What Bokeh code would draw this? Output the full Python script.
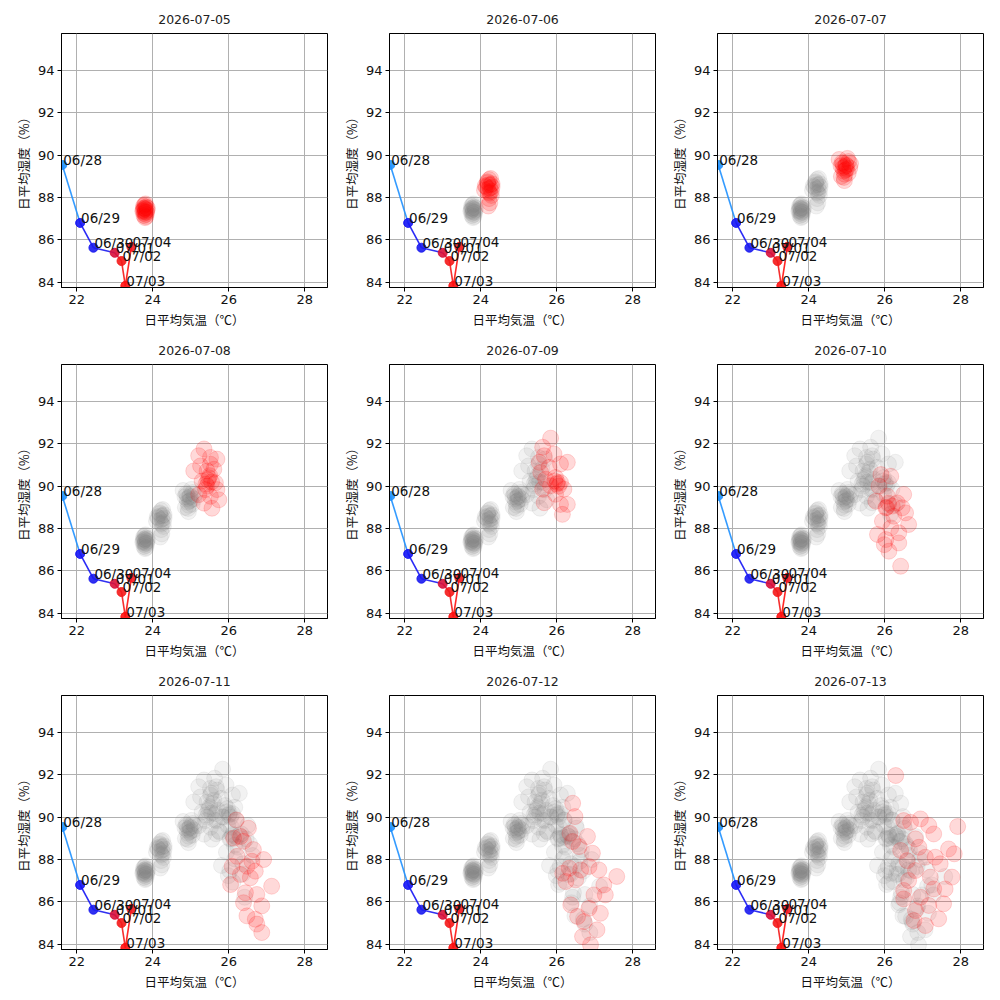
from bokeh.core.properties import value
from bokeh.embed import file_html
from bokeh.layouts import gridplot
from bokeh.models import ColumnDataSource, Range1d
from bokeh.plotting import figure
from bokeh.resources import INLINE

LATIN = "DejaVu Sans"
CJK = "Noto Sans CJK JP"

# observed daily means (temperature, humidity)
obs_dates = ["06/28", "06/29", "06/30", "07/01", "07/02", "07/03", "07/04"]
obs_temp = [21.62, 22.09, 22.44, 23.00, 23.18, 23.28, 23.44]
obs_hum = [89.54, 86.80, 85.63, 85.39, 85.00, 83.83, 85.67]
obs_colors = ["#1e90ff", "#1414f5", "#1a1af0", "#d8103a", "#f41818", "#ff1010", "#f41820"]

# ensemble forecasts per target day
panel_days = ["2026-07-05", "2026-07-06", "2026-07-07", "2026-07-08", "2026-07-09",
              "2026-07-10", "2026-07-11", "2026-07-12", "2026-07-13"]

t_0705 = [23.78, 23.80, 23.76, 23.82, 23.79, 23.74, 23.85, 23.81, 23.77, 23.83,
          23.80, 23.75, 23.78, 23.84, 23.79, 23.81, 23.76, 23.82, 23.80, 23.86]
h_0705 = [87.45, 87.30, 87.60, 87.20, 87.50, 87.35, 87.40, 87.70, 87.15, 87.55,
          87.05, 87.40, 87.25, 87.30, 87.65, 87.45, 87.50, 87.10, 87.35, 87.50]

t_0706 = [24.20, 24.25, 24.18, 24.28, 24.22, 24.15, 24.30, 24.24, 24.20, 24.26,
          24.12, 24.22, 24.28, 24.18, 24.24, 24.30, 24.10, 24.20, 24.26, 24.22]
h_0706 = [88.60, 88.45, 88.75, 88.30, 88.85, 88.50, 88.65, 88.20, 88.40, 88.90,
          88.55, 87.95, 88.10, 88.70, 87.75, 88.50, 88.35, 87.60, 88.60, 88.25]

t_0707 = [24.95, 24.90, 25.00, 24.85, 25.05, 24.92, 24.98, 24.80, 25.08, 24.95,
          24.88, 25.02, 24.93, 24.97, 24.90, 25.04, 24.86, 24.99, 24.94, 25.10]
h_0707 = [89.45, 89.60, 89.35, 89.50, 89.70, 89.25, 89.55, 89.80, 89.40, 89.10,
          89.65, 89.85, 88.95, 89.30, 89.40, 89.15, 89.00, 89.50, 88.80, 89.60]

t_0708 = [25.35, 25.21, 25.52, 25.69, 25.08, 25.43, 25.26, 25.61, 25.48, 25.30, 25.65, 25.39,
          25.69, 25.21, 25.52, 25.74, 25.35, 25.56, 25.43, 25.52, 25.45, 25.50, 25.40, 25.55]
h_0708 = [91.76, 91.44, 91.36, 91.28, 90.72, 90.72, 90.96, 90.80, 90.40, 90.24, 90.16, 89.84,
          89.84, 89.60, 89.52, 89.36, 89.20, 88.96, 90.00, 91.04, 90.30, 90.50, 90.10, 90.20]

t_0709 = [25.84, 25.63, 25.93, 25.67, 25.54, 26.28, 26.10, 25.80, 25.58, 25.97, 26.10, 25.84,
          26.19, 25.63, 25.71, 25.97, 25.67, 26.10, 26.28, 26.15, 26.02, 26.00, 25.95, 26.05]
h_0709 = [92.27, 91.84, 91.52, 91.44, 91.13, 91.13, 91.05, 90.89, 90.65, 90.41, 90.17, 90.02,
          89.86, 89.86, 90.33, 89.62, 89.22, 89.14, 89.14, 88.67, 90.17, 90.10, 90.25, 90.00]

t_0710 = [25.90, 26.16, 25.85, 26.07, 25.77, 26.50, 26.33, 26.03, 26.46, 26.24, 25.94, 26.63,
          26.16, 26.37, 25.81, 26.03, 26.37, 25.99, 26.11, 26.42, 26.55, 26.20, 26.10, 26.05]
h_0710 = [90.55, 90.47, 90.00, 89.53, 89.29, 89.61, 89.21, 88.98, 88.98, 88.58, 88.35, 88.19,
          88.03, 87.80, 87.72, 87.48, 87.32, 87.24, 86.93, 86.22, 88.74, 89.06, 89.20, 89.00]

t_0711 = [26.20, 26.31, 26.52, 26.13, 26.39, 26.65, 26.22, 26.92, 26.61, 26.48, 26.70, 26.31,
          26.57, 26.05, 27.13, 26.44, 26.74, 26.87, 26.39, 26.48, 26.70, 26.74, 26.87, 26.09]
h_0711 = [89.87, 89.09, 89.48, 89.01, 88.86, 88.47, 88.15, 88.00, 87.92, 87.68, 87.45, 87.29,
          87.14, 86.82, 86.74, 86.43, 86.35, 85.81, 85.96, 85.34, 85.18, 84.95, 84.55, 87.68]

t_0712 = [26.42, 26.48, 26.35, 26.81, 26.42, 26.59, 26.94, 26.33, 26.63, 26.85, 27.11, 27.58, 26.50,
          27.24, 26.98, 27.28, 26.37, 26.85, 26.55, 27.15, 26.72, 27.06, 26.68, 26.89, 26.24, 26.16]
h_0712 = [90.66, 90.03, 89.24, 89.09, 88.85, 88.61, 88.30, 87.59, 87.51, 87.67, 87.51, 87.20, 87.04,
          86.80, 86.33, 86.33, 85.86, 85.70, 85.31, 85.46, 85.07, 84.68, 84.36, 83.97, 86.96, 87.35]

t_0713 = [26.29, 26.50, 26.94, 26.68, 27.16, 27.29, 27.92, 26.81, 27.68, 27.83, 26.90, 26.42, 26.59, 27.07, 27.33, 27.46,
          26.81, 27.20, 27.77, 27.29, 27.59, 26.50, 26.94, 26.50, 27.16, 27.55, 26.81, 27.42, 26.77, 27.07, 26.63]
h_0713 = [91.97, 89.84, 89.92, 89.76, 89.61, 89.21, 89.56, 88.98, 88.50, 88.27, 88.58, 88.43, 87.95, 88.11, 88.11, 87.80,
          87.48, 87.17, 87.17, 86.61, 86.61, 86.54, 86.22, 86.14, 85.83, 85.91, 85.59, 85.20, 85.12, 84.88, 87.01]

forecast_t = [t_0705, t_0706, t_0707, t_0708, t_0709, t_0710, t_0711, t_0712, t_0713]
forecast_h = [h_0705, h_0706, h_0707, h_0708, h_0709, h_0710, h_0711, h_0712, h_0713]

x_ticks = [22, 24, 26, 28]
y_ticks = [84, 86, 88, 90, 92, 94]


def make_panel(i):
    p = figure(frame_width=266, frame_height=254,
               min_border_left=61, min_border_right=1, min_border_top=33, min_border_bottom=42,
               x_range=Range1d(21.6, 28.6), y_range=Range1d(83.75, 95.75),
               output_backend="svg", toolbar_location=None, tools="",
               title=panel_days[i], x_axis_label="日平均気温（℃）", y_axis_label="日平均湿度（%）")
    p.title.align = "center"
    p.title.text_font = LATIN
    p.title.text_font_style = "normal"
    p.title.text_font_size = "12.5px"
    p.title.text_color = "#222222"
    p.title.standoff = 19

    p.xaxis.ticker = x_ticks
    p.yaxis.ticker = y_ticks
    for ax in (p.xaxis, p.yaxis):
        ax.major_label_text_font = LATIN
        ax.major_label_text_font_size = "13px"
        ax.major_label_text_color = "#111111"
        ax.axis_label_text_font = CJK
        ax.axis_label_text_font_size = "12.5px"
        ax.axis_label_text_font_style = "normal"
        ax.axis_label_text_color = "#111111"
        ax.major_tick_out = 4
        ax.major_tick_in = 0
        ax.minor_tick_out = 0
        ax.minor_tick_in = 0
        ax.axis_line_color = "black"
        ax.major_label_standoff = 3
    p.xaxis.axis_label_standoff = 3
    p.yaxis.axis_label_standoff = 2
    p.grid.grid_line_color = "#b0b0b0"
    p.grid.grid_line_width = 1
    p.outline_line_color = "black"
    p.outline_line_alpha = 1
    p.outline_line_width = 1

    # earlier forecasts in gray
    gt, gh = [], []
    for k in range(i):
        gt += forecast_t[k]
        gh += forecast_h[k]
    if gt:
        p.scatter(gt, gh, size=16, color="gray", alpha=0.1)
    p.scatter(forecast_t[i], forecast_h[i], size=16, color="red", alpha=0.15)

    # observed path
    seg = ColumnDataSource(dict(x0=obs_temp[:-1], y0=obs_hum[:-1], x1=obs_temp[1:], y1=obs_hum[1:],
                                c=obs_colors[:-1]))
    p.segment("x0", "y0", "x1", "y1", source=seg, line_color="c", line_width=1.6, line_alpha=0.9)
    obs = ColumnDataSource(dict(x=obs_temp, y=obs_hum, c=obs_colors, d=obs_dates))
    p.scatter("x", "y", source=obs, size=9, fill_color="c", line_color="c", alpha=0.9)
    p.text("x", "y", text="d", source=obs, x_offset=1, y_offset=3, text_baseline="bottom", text_align="left",
           text_font=value(LATIN), text_font_size="13.5px", text_color="#111111")
    return p


figs = [make_panel(i) for i in range(9)]
grid = gridplot(figs, ncols=3, toolbar_location=None)

open("out.html", "w").write(file_html(grid, INLINE))
